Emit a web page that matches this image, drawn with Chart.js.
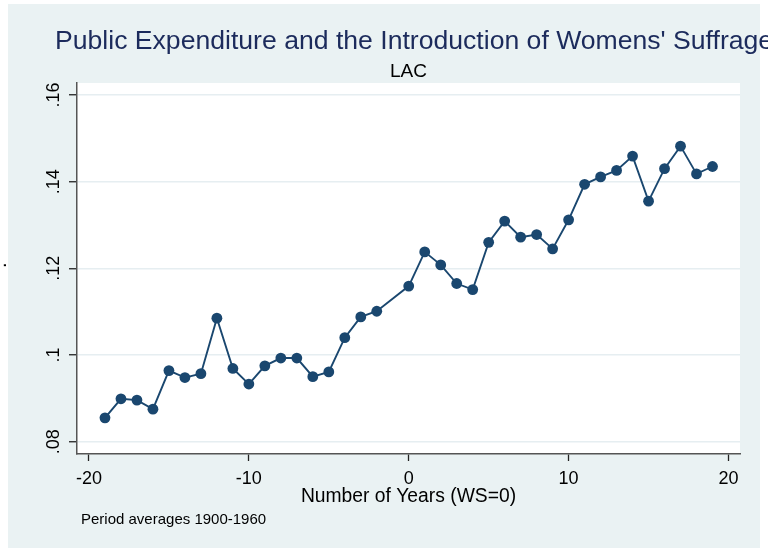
<!DOCTYPE html>
<html><head><meta charset="utf-8">
<script src="https://cdn.jsdelivr.net/npm/chart.js@4.4.1/dist/chart.umd.min.js"></script>
<style>html,body{margin:0;padding:0;background:#fff;}canvas{display:block;}</style>
</head><body>
<canvas id="c" width="768" height="548"></canvas>
<script>
// ---- data ----
const years = [-19,-18,-17,-16,-15,-14,-13,-12,-11,-10,-9,-8,-7,-6,-5,-4,-3,-2,0,1,2,3,4,5,6,7,8,9,10,11,12,13,14,15,16,17,18,19];
const expenditure = [0.0855,0.0899,0.0896,0.0875,0.0964,0.0948,0.0957,0.1085,0.0969,0.0933,0.0975,0.0993,0.0993,0.0950,0.0961,0.1040,0.1088,0.1101,0.1159,0.1238,0.1208,0.1165,0.1151,0.1260,0.1309,0.1272,0.1278,0.1245,0.1312,0.1394,0.1411,0.1426,0.1459,0.1355,0.1430,0.1482,0.1418,0.1435];
const xTickValues = [-20,-10,0,10,20];
const xTickLabels = ['-20','-10','0','10','20'];
const yTickValues = [0.08,0.10,0.12,0.14,0.16];
const yTickLabels = ['.08','.1','.12','.14','.16'];
const titleText = "Public Expenditure and the Introduction of Womens' Suffrage";
const subtitleText = 'LAC';
const xTitleText = 'Number of Years (WS=0)';
const yTitleText = '.';
const noteText = 'Period averages 1900-1960';

const FONT = '"Liberation Sans", Arial, Helvetica, sans-serif';
const NAVY = '#1a476f';
const BG = '#eaf2f3';

const points = years.map((x, i) => ({x: x, y: expenditure[i]}));

const decor = {
  id: 'decor',
  beforeDraw(chart) {
    const ctx = chart.ctx, a = chart.chartArea;
    ctx.save();
    ctx.fillStyle = '#ffffff';
    ctx.fillRect(0, 0, chart.width, chart.height);
    ctx.fillStyle = BG;
    ctx.fillRect(8, 4, 752, chart.height - 4);
    ctx.fillStyle = '#ffffff';
    ctx.fillRect(a.left, a.top, a.right - a.left, a.bottom - a.top);
    ctx.restore();
  },
  afterDraw(chart) {
    const ctx = chart.ctx, a = chart.chartArea;
    const xs = chart.scales.x, ys = chart.scales.y;
    const cx = (a.left + a.right) / 2;
    ctx.save();
    // title
    ctx.fillStyle = '#1c2b5c';
    ctx.font = '26.6px ' + FONT;
    ctx.textAlign = 'left';
    ctx.textBaseline = 'alphabetic';
    ctx.fillText(titleText, 55, 49);
    // subtitle
    ctx.fillStyle = '#000000';
    ctx.font = '19px ' + FONT;
    ctx.textAlign = 'center';
    ctx.fillText(subtitleText, cx, 77);
    // x tick labels
    ctx.font = '18px ' + FONT;
    xTickValues.forEach((v, i) => {
      ctx.fillText(xTickLabels[i], xs.getPixelForValue(v), 483.5);
    });
    // x title
    ctx.font = '19.3px ' + FONT;
    ctx.fillText(xTitleText, cx, 501.5);
    // note
    ctx.font = '15px ' + FONT;
    ctx.textAlign = 'left';
    ctx.fillText(noteText, 81, 524);
    // y tick labels (rotated)
    ctx.font = '18px ' + FONT;
    ctx.textAlign = 'center';
    yTickValues.forEach((v, i) => {
      ctx.save();
      ctx.translate(58.5, ys.getPixelForValue(v));
      ctx.rotate(-Math.PI / 2);
      ctx.fillText(yTickLabels[i], 0, 0);
      ctx.restore();
    });
    // y title
    ctx.save();
    ctx.font = '20px ' + FONT;
    ctx.textAlign = 'left';
    ctx.translate(5.5, 268);
    ctx.rotate(-Math.PI / 2);
    ctx.fillText(yTitleText, 0, 0);
    ctx.restore();
    ctx.restore();
  }
};

new Chart(document.getElementById('c'), {
  type: 'line',
  data: {
    datasets: [{
      data: points,
      borderColor: NAVY,
      backgroundColor: NAVY,
      borderWidth: 1.9,
      pointRadius: 5.4,
      pointBorderWidth: 0,
      pointBackgroundColor: NAVY,
      pointBorderColor: NAVY,
      tension: 0,
      fill: false
    }]
  },
  options: {
    responsive: false,
    animation: false,
    devicePixelRatio: 1,
    layout: {padding: {left: 69, top: 83, right: 28, bottom: 87}},
    plugins: {legend: {display: false}, title: {display: false}, tooltip: {enabled: false}},
    scales: {
      x: {
        type: 'linear',
        min: -20.75, max: 20.72,
        afterBuildTicks: s => { s.ticks = xTickValues.map(v => ({value: v})); },
        ticks: {display: false},
        grid: {display: true, drawOnChartArea: false, drawTicks: true, tickLength: 7, tickColor: '#222', tickWidth: 1.3},
        border: {display: true, color: '#555', width: 1.5}
      },
      y: {
        type: 'linear',
        min: 0.07716, max: 0.16277,
        afterBuildTicks: s => { s.ticks = yTickValues.map(v => ({value: v})); },
        ticks: {display: false},
        grid: {display: true, drawOnChartArea: true, color: '#e6eef1', lineWidth: 1.5, drawTicks: true, tickLength: 8, tickColor: '#222', tickWidth: 1.3},
        border: {display: true, color: '#555', width: 1.5}
      }
    }
  },
  plugins: [decor]
});
</script>
</body></html>
